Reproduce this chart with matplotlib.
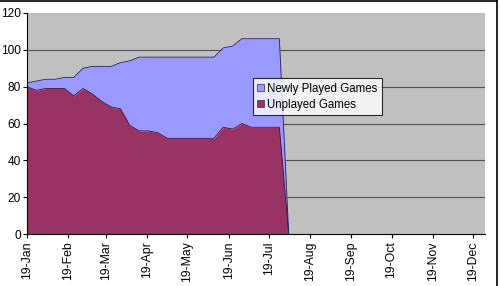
import matplotlib
matplotlib.use("Agg")
import matplotlib.pyplot as plt
import matplotlib.dates as mdates
import numpy as np
import datetime as dt
from matplotlib.lines import Line2D

plt.rcParams['font.family'] = ['Liberation Sans', 'DejaVu Sans']

# weekly snapshots starting 19-Jan
start = dt.date(2007, 1, 19)
dates = [start + dt.timedelta(weeks=i) for i in range(29)]

unplayed = [80, 78, 79, 79, 79, 75, 79, 76, 72, 69,
            68, 59, 56, 56, 55, 52, 52, 52, 52, 52,
            52, 58, 57, 60, 58, 58, 58, 58, 0]
total = [82, 83, 84, 84, 85, 85, 90, 91, 91, 91,
         93, 94, 96, 96, 96, 96, 96, 96, 96, 96,
         96, 101, 102, 106, 106, 106, 106, 106, 0]
newly = [t - u for t, u in zip(total, unplayed)]

month_ticks = [dt.date(2007, m, 19) for m in range(1, 13)]

fig = plt.figure(figsize=(5, 2.86), dpi=100)
ax = fig.add_axes([0.054, 0.181, 0.916, 0.774])
ax.set_facecolor('#C0C0C0')

x = mdates.date2num(dates)
ax.fill_between(x, 0, unplayed, color='#993366', lw=0, zorder=3, label='Unplayed Games')
ax.fill_between(x, unplayed, total, color='#9999FF', lw=0, zorder=3, label='Newly Played Games')
ax.plot(x, unplayed, color='#4a1030', lw=0.6, zorder=4)
ax.plot(x, total, color='#202060', lw=0.6, zorder=4)

ax.set_ylim(0, 120)
ax.set_yticks(range(0, 121, 20))
ax.set_xlim(mdates.date2num(dt.date(2007, 1, 19)), mdates.date2num(dt.date(2007, 12, 28)))
ax.set_xticks(mdates.date2num(month_ticks))
ax.xaxis.set_major_formatter(mdates.DateFormatter('%d-%b'))
ax.tick_params(axis='x', labelrotation=90, labelsize=8.8, length=3, pad=2)
ax.tick_params(axis='y', labelsize=8.6, length=3, pad=1.5)

for v in range(20, 101, 20):
    ax.axhline(v, color='#505050', lw=0.8, zorder=1)

ax.spines['top'].set_visible(False)
ax.spines['right'].set_visible(False)
ax.spines['left'].set_zorder(5)
ax.spines['bottom'].set_zorder(5)

h, l = ax.get_legend_handles_labels()
leg = ax.legend(h[::-1], l[::-1], loc='upper left', bbox_to_anchor=(0.493, 0.705),
                fontsize=8.3, frameon=True, fancybox=False, borderpad=0.4,
                handlelength=0.55, handleheight=0.55, handletextpad=0.3,
                labelspacing=0.35, borderaxespad=0)
leg.get_frame().set_edgecolor('black')
leg.get_frame().set_linewidth(0.8)
leg.set_zorder(10)
for p in leg.get_patches():
    p.set_edgecolor('#333333')
    p.set_linewidth(0.5)

# outer chart border
fig.add_artist(Line2D([0, 0.994], [0.995, 0.995], color='black', lw=1.2, transform=fig.transFigure))
fig.add_artist(Line2D([0.994, 0.994], [0, 0.995], color='black', lw=1.2, transform=fig.transFigure))

fig.savefig('out.png', dpi=100)
